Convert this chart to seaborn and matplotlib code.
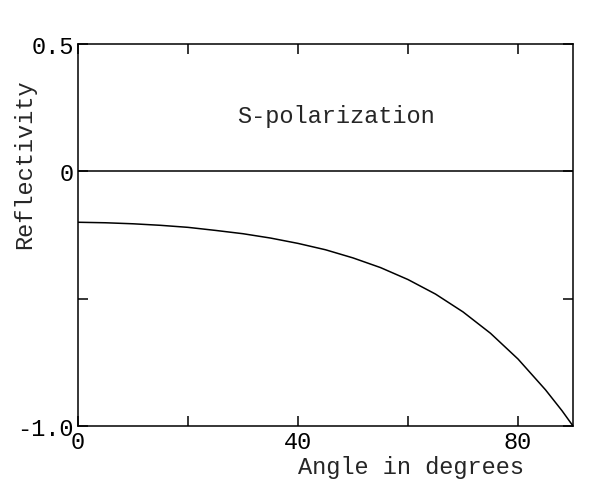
import pandas as pd
import matplotlib
matplotlib.use("Agg")
import matplotlib.pyplot as plt
import seaborn as sns

# angle of incidence (degrees) and reflectivity
angle = [0, 5, 10, 15, 20, 25, 30, 35, 40, 45, 50, 55, 60, 65, 70, 75, 80, 85, 88, 90]
refl = [-0.200, -0.202, -0.206, -0.212, -0.220, -0.232, -0.245, -0.262, -0.283, -0.308,
        -0.340, -0.378, -0.425, -0.482, -0.552, -0.636, -0.737, -0.858, -0.940, -1.000]

xticks = [0, 20, 40, 60, 80]
xticklabels = ["0", "", "40", "", "80"]
yticks = [0.5, 0, -0.5, -1.0]
yticklabels = ["0.5", "0", "", "-1.0"]

sns.set_style("ticks")
plt.rcParams['font.family'] = ['Liberation Mono', 'DejaVu Sans Mono']
plt.rcParams['axes.unicode_minus'] = False

df = pd.DataFrame({"angle": angle, "refl": refl})

fig, ax = plt.subplots(figsize=(5.9, 4.89), dpi=100)
fig.subplots_adjust(left=0.1322, right=0.9712, top=0.908, bottom=0.1268)

sns.lineplot(data=df, x="angle", y="refl", ax=ax, color="black", linewidth=1.1)
ax.axhline(0, color="black", linewidth=1.1)

ax.set_xlim(0, 90)
ax.set_ylim(-1.0, 0.5)
ax.set_xticks(xticks)
ax.set_xticklabels(xticklabels)
ax.set_yticks(yticks)
ax.set_yticklabels(yticklabels)
ax.tick_params(direction="in", length=7, width=1.1, top=True, right=True,
               labelsize=17, colors="black", pad=3)
for s in ax.spines.values():
    s.set_linewidth(1.1)
    s.set_color("black")

ax.set_xlabel("Angle in degrees", fontsize=17)
ax.xaxis.set_label_coords(0.673, -0.105)
ax.xaxis.label.set_va("center")
ax.set_ylabel("Reflectivity", fontsize=17)
ax.yaxis.set_label_coords(-0.107, 0.688)
ax.yaxis.label.set_va("center")
ax.text(47, 0.22, "S-polarization", fontsize=17, ha="center", va="center")

plt.savefig("out.png", dpi=100)
